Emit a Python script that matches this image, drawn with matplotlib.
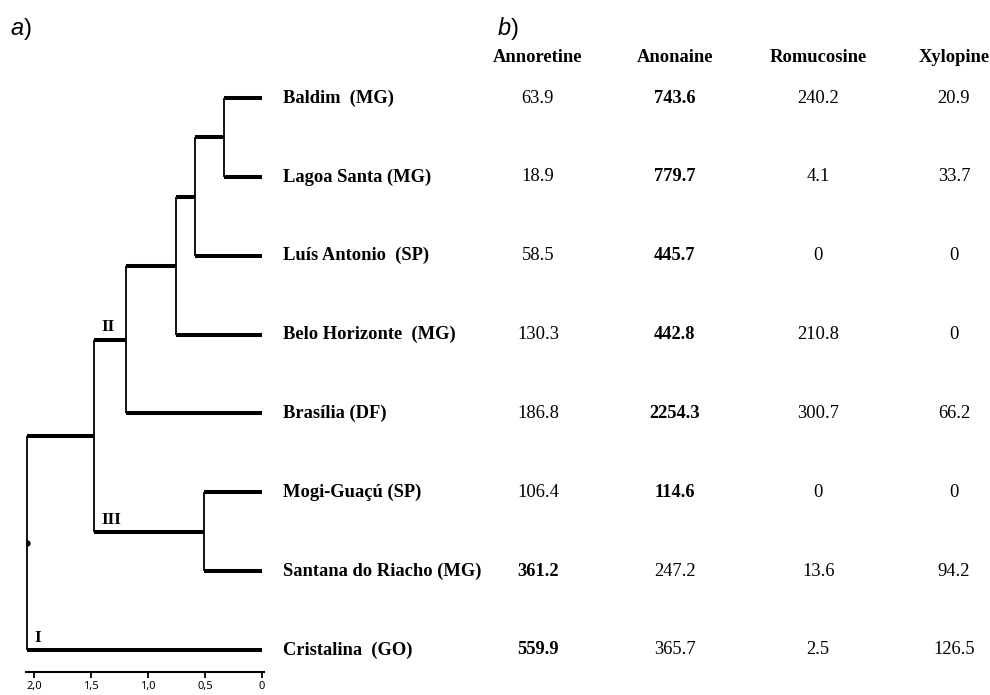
import matplotlib.pyplot as plt
import numpy as np

plt.rcParams['font.family'] = 'Liberation Serif'
plt.rcParams['mathtext.fontset'] = 'custom'
plt.rcParams['mathtext.it'] = 'Liberation Sans:italic'
plt.rcParams['mathtext.rm'] = 'Liberation Sans'

SITES = ["Baldim  (MG)", "Lagoa Santa (MG)", "Luís Antonio  (SP)", "Belo Horizonte  (MG)",
         "Brasília (DF)", "Mogi-Guaçú (SP)", "Santana do Riacho (MG)", "Cristalina  (GO)"]
COMPOUNDS = ["Annoretine", "Anonaine", "Romucosine", "Xylopine"]
ANNORETINE = [63.9, 18.9, 58.5, 130.3, 186.8, 106.4, 361.2, 559.9]
ANONAINE = [743.6, 779.7, 445.7, 442.8, 2254.3, 114.6, 247.2, 365.7]
ROMUCOSINE = [240.2, 4.1, 0, 210.8, 300.7, 0, 13.6, 2.5]
XYLOPINE = [20.9, 33.7, 0, 0, 66.2, 0, 94.2, 126.5]

# linkage rows: (child a, child b, height); ids >= 8 are earlier merges
LINKAGE = [(0, 1, 0.33), (8, 2, 0.59), (9, 3, 0.75), (10, 4, 1.19),
           (5, 6, 0.51), (11, 12, 1.47), (13, 7, 2.06)]
GROUPS = [("I", 7), ("II", 11), ("III", 12)]
TICKS = [2.0, 1.5, 1.0, 0.5, 0.0]
TICK_LABELS = ["2,0", "1,5", "1,0", "0,5", "0"]

W, H = 990, 695
fig = plt.figure(figsize=(9.9, 6.95), dpi=100)

# dendrogram axes, y = leaf index (top to bottom)
ax = fig.add_axes([26 / W, 1 - 672 / H, (264 - 26) / W, 672 / H])
ax.set_xlim(2.070, -0.0175)
ax.set_ylim(7.279, -1.243)

n = len(SITES)
pos = {i: (0.0, float(i)) for i in range(n)}
parent_of = {}
for k, (a, b, h) in enumerate(LINKAGE):
    ya, yb = pos[a][1], pos[b][1]
    ax.plot([h, h], [ya, yb], color='k', lw=1.3, solid_capstyle='butt')
    for c in (a, b):
        ax.plot([pos[c][0], h], [pos[c][1]] * 2, color='k', lw=2.9,
                solid_capstyle='butt')
        parent_of[c] = n + k
    pos[n + k] = (h, (ya + yb) / 2)

root = pos[n + len(LINKAGE) - 1]
ax.plot(root[0], root[1], 'o', ms=3.5, color='k')

for name, cid in GROUPS:
    ph = pos[parent_of[cid]][0]
    ax.annotate(name, xy=(ph, pos[cid][1]), xytext=(5, 3), textcoords='offset points',
                ha='left', va='bottom', fontsize=12.5, fontweight='bold')

for s in ['top', 'left', 'right']:
    ax.spines[s].set_visible(False)
ax.spines['bottom'].set_linewidth(1.5)
ax.set_yticks([])
ax.set_xticks(TICKS)
ax.set_xticklabels(TICK_LABELS, fontfamily='Noto Sans', fontsize=8)
ax.tick_params(axis='x', direction='out', length=4, width=1.3, pad=2.5)
ax.patch.set_visible(False)

# table axes
tax = fig.add_axes([262 / W, 1 - 672 / H, (W - 262) / W, 672 / H], sharey=ax)
tax.set_xlim(0, 1)
tax.axis('off')

LABEL_X = 0.029
COL_X = [0.379, 0.567, 0.764, 0.9505]
HEADER_Y = -0.51

values = np.array([ANNORETINE, ANONAINE, ROMUCOSINE, XYLOPINE]).T

for i, site in enumerate(SITES):
    tax.text(LABEL_X, i, site, ha='left', va='center', fontsize=13.3, fontweight='bold')
    row_max = values[i].max()
    for j, v in enumerate(values[i]):
        txt = "0" if v == 0 else f"{v:.1f}"
        tax.text(COL_X[j], i, txt, ha='center', va='center', fontsize=13.3,
                 fontweight='bold' if v == row_max else 'normal')

for j, comp in enumerate(COMPOUNDS):
    tax.text(COL_X[j], HEADER_Y, comp, ha='center', va='center', fontsize=13.3,
             fontweight='bold')

fig.text(10 / W, 1 - 35 / H, r"$\mathit{a}$)", fontsize=17, fontfamily='Liberation Sans',
         ha='left', va='baseline')
fig.text(497 / W, 1 - 35 / H, r"$\mathit{b}$)", fontsize=17, fontfamily='Liberation Sans',
         ha='left', va='baseline')

fig.savefig("out.png", dpi=100)
